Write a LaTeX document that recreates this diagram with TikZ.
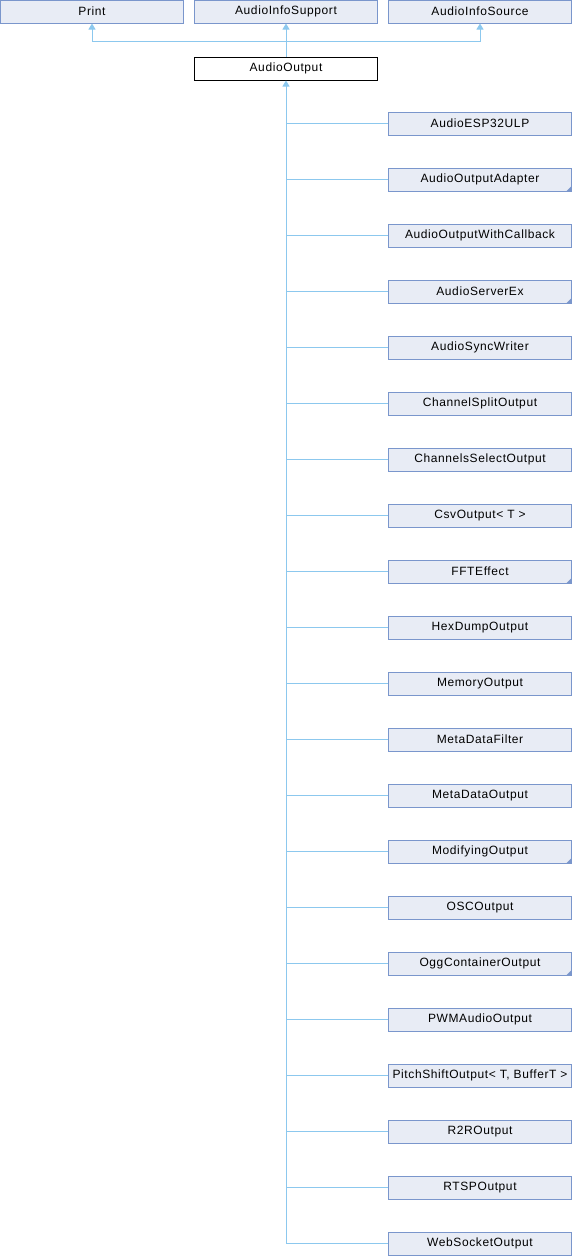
\documentclass[tikz,border=0pt]{standalone}
\usepackage{fontspec}
\setmainfont{Liberation Sans}[LetterSpace=5]
\usetikzlibrary{arrows.meta}
\definecolor{boxfill}{RGB}{232,236,245}
\definecolor{boxline}{RGB}{122,150,204}
\definecolor{edgecol}{RGB}{140,200,238}
\begin{document}
\begin{tikzpicture}[x=1pt,y=-1pt,
  cls/.style={draw=boxline,fill=boxfill,line width=1pt,minimum width=183pt,minimum height=23pt,inner sep=0pt,font=\fontsize{12}{13}\selectfont},
  self/.style={draw=black,fill=white,line width=1pt,minimum width=183pt,minimum height=23pt,inner sep=0pt,font=\fontsize{12}{13}\selectfont},
  edge/.style={draw=edgecol,line width=1pt},
  inh/.style={edge,{Triangle[width=7pt,length=6pt,fill=edgecol]}-},
  more/.style={path picture={\fill[boxline] (path picture bounding box.south east) -- ++(-5pt,0) -- ++(5pt,5pt) -- cycle;}}]
\useasboundingbox (0,0) rectangle (572,1256);
% base classes
\node[cls] (print) at (92,11.5) {Print};
\node[cls] (infosup) at (286,11.5) {AudioInfoSupport};
\node[cls] (infosrc) at (480,11.5) {AudioInfoSource};
% the class itself
\node[self] (out) at (286,68.5) {AudioOutput};
\coordinate (join) at (286,41);
\draw[inh] (print.south) -- (print.south |- join) -- (join);
\draw[inh] (infosrc.south) -- (infosrc.south |- join) -- (join);
\draw[inh] (infosup.south) -- (out.north);
% derived classes
\foreach \name/\txt/\extra [count=\i from 0] in {
  c0/AudioESP32ULP/,
  c1/AudioOutputAdapter/more,
  c2/AudioOutputWithCallback/,
  c3/AudioServerEx/more,
  c4/AudioSyncWriter/,
  c5/ChannelSplitOutput/,
  c6/ChannelsSelectOutput/,
  c7/{CsvOutput< T >}/,
  c8/FFTEffect/more,
  c9/HexDumpOutput/,
  c10/MemoryOutput/,
  c11/MetaDataFilter/,
  c12/MetaDataOutput/,
  c13/ModifyingOutput/more,
  c14/OSCOutput/,
  c15/OggContainerOutput/more,
  c16/PWMAudioOutput/,
  c17/{PitchShiftOutput< T, BufferT >}/,
  c18/R2ROutput/,
  c19/RTSPOutput/,
  c20/WebSocketOutput/} {
  \node[cls,\extra] (\name) at (480,123.5+56*\i) {\txt};
  \draw[edge] (\name.west) -- (out.south |- \name.west);
}
\draw[inh] (out.south) -- (out.south |- c20.west);
\end{tikzpicture}
\end{document}
